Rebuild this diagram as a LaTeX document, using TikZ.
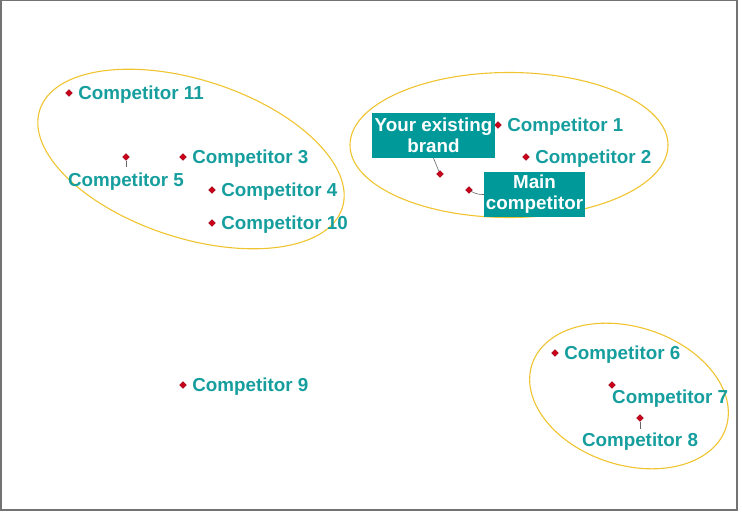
\documentclass[tikz,border=0pt]{standalone}
\usepackage{fontspec}
\setmainfont{Liberation Sans}
\usetikzlibrary{positioning,shapes.geometric}

\definecolor{mapteal}{RGB}{22,158,158}
\definecolor{boxteal}{RGB}{0,153,153}
\definecolor{ringgold}{RGB}{240,196,48}
\definecolor{dotred}{RGB}{204,0,24}
\definecolor{framegray}{RGB}{115,115,115}

\tikzset{
  mappoint/.style={diamond, fill=dotred, draw=dotred!70!black, line width=0.4pt, inner sep=0pt, minimum size=7pt},
  maplabel/.style={text=mapteal, inner sep=0pt, text height=13.5pt, text depth=0pt},
  tagbox/.style={fill=boxteal, text=white, align=center, inner sep=1pt},
  cluster/.style={ellipse, draw=ringgold, line width=1.1pt, inner sep=0pt},
  leader/.style={draw=gray!80!black, line width=0.6pt}
}

\begin{document}
\begin{tikzpicture}[x=1pt,y=-1pt,font=\fontsize{18.8}{21}\selectfont\bfseries]
    \useasboundingbox (0,0) rectangle (742,516);
    \draw[framegray, line width=1.5pt] (0.75,0.75) rectangle (737,510);

    % groups
    \node (ringL) [cluster, minimum width=318pt, minimum height=158pt, rotate=-18] at (191,159) {};
    \node (ringT) [cluster, minimum width=318pt, minimum height=145pt] at (509,145) {};
    \node (ringB) [cluster, minimum width=204pt, minimum height=138pt, rotate=-18] at (629,396) {};

    % positions
    \node (c11) [mappoint] at (69,93) {};
    \node (c5) [mappoint] at (126,157) {};
    \node (c3) [mappoint] at (183,157) {};
    \node (c4) [mappoint] at (212,190) {};
    \node (c10) [mappoint] at (212,223) {};
    \node (c9) [mappoint] at (183,385) {};
    \node (own) [mappoint] at (440,174) {};
    \node (c1) [mappoint] at (498,125) {};
    \node (c2) [mappoint] at (526,157) {};
    \node (main) [mappoint] at (469,190) {};
    \node (c6) [mappoint] at (555,353) {};
    \node (c7) [mappoint] at (612,385) {};
    \node (c8) [mappoint] at (640,418) {};

    % labels
    \node (l11) [maplabel, right=5.5pt of c11] {Competitor 11};
    \node (l5) [maplabel, below=12.5pt of c5] {Competitor 5};
    \node (l3) [maplabel, right=5.5pt of c3] {Competitor 3};
    \node (l4) [maplabel, right=5.5pt of c4] {Competitor 4};
    \node (l10) [maplabel, right=5.5pt of c10] {Competitor 10};
    \node (l9) [maplabel, right=5.5pt of c9] {Competitor 9};
    \node (l1) [maplabel, right=5.5pt of c1] {Competitor 1};
    \node (l2) [maplabel, right=5.5pt of c2] {Competitor 2};
    \node (l6) [maplabel, right=5.5pt of c6] {Competitor 6};
    \node (l7) [maplabel, below=1.5pt of c7.south, anchor=north west] {Competitor 7};
    \node (l8) [maplabel, below=11pt of c8] {Competitor 8};

    \node (brandbox) [tagbox, minimum width=123pt, minimum height=45pt] at (433.5,135.5) {Your existing\\brand};
    \node (mainbox) [tagbox, minimum width=101pt, minimum height=45pt] at (534.5,194.5) {Main\\competitor};

    \draw[leader] (c5) -- ([yshift=6pt]l5.north);
    \draw[leader] (c8) -- ([yshift=4pt]l8.north);
    \draw[leader] (brandbox.south) -- (own);
    \draw[leader] (main) to[bend right=15] (mainbox.west);
\end{tikzpicture}
\end{document}
